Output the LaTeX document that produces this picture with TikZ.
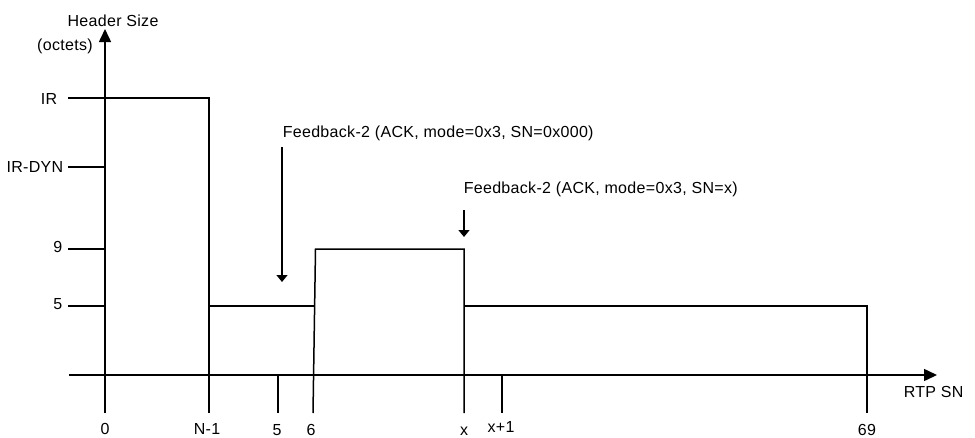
\documentclass[tikz,border=0pt]{standalone}
\usepackage{fontspec}
\setmainfont{Liberation Sans}[LetterSpace=2.0]
\usetikzlibrary{arrows.meta}
\begin{document}
\begin{tikzpicture}[x=1pt,y=-1pt, line width=1.5pt,
  lbl/.style={inner sep=0pt, font=\fontsize{16}{19}\selectfont},
  axisarrow/.style={-{Triangle[length=13pt,width=12pt]}},
  fbarrow/.style={-{Triangle[length=7pt,width=11pt]}}]
\useasboundingbox (0,0) rectangle (975,437);
% coordinates
\coordinate (ybot) at (105,413);
\coordinate (ytop) at (105,29);
\coordinate (xstart) at (69,375);
\coordinate (xend) at (937,375);
\coordinate (irL) at (68,98);
\coordinate (irR) at (209,98);
\coordinate (nb) at (209,413);
\coordinate (dynL) at (68,167);
\coordinate (dynR) at (105,167);
\coordinate (nineL) at (68,249);
\coordinate (nineR) at (105,249);
\coordinate (fiveL) at (68,306);
\coordinate (fiveR) at (105,306);
\coordinate (lowA) at (209,306);
\coordinate (lowB) at (315,306);
\coordinate (sixB) at (313,413);
\coordinate (sixT) at (315.5,249);
\coordinate (xT) at (464,249);
\coordinate (xB) at (464,413);
\coordinate (t5T) at (278,375);
\coordinate (t5B) at (278,413);
\coordinate (lowC) at (464,306);
\coordinate (lowD) at (867,306);
\coordinate (endB) at (867,413);
\coordinate (x1T) at (502,375);
\coordinate (x1B) at (502,413);
\coordinate (fa1s) at (282,147);
\coordinate (fa1e) at (282,282);
\coordinate (fa2s) at (464,210);
\coordinate (fa2e) at (464,237);
% axes
\draw[axisarrow] (ybot) -- (ytop);
\draw[axisarrow] (xstart) -- (xend);
% y ticks
\draw (dynL) -- (dynR);
\draw (nineL) -- (nineR);
\draw (fiveL) -- (fiveR);
% header size curve
\draw (irL) -- (irR) -- (nb);
\draw (lowA) -- (lowB);
\draw (sixB) -- (sixT) -- (xT) -- (xB);
\draw (lowC) -- (lowD) -- (endB);
% x ticks
\draw (t5T) -- (t5B);
\draw (x1T) -- (x1B);
% feedback arrows
\draw[fbarrow] (fa1s) -- (fa1e);
\draw[fbarrow] (fa2s) -- (fa2e);
% labels
\node[lbl, anchor=base] (hs) at (113,26) {Header Size};
\node[lbl, anchor=base] (oc) at (65,50) {(octets)};
\node[lbl, anchor=base east] (lir) at (58,104) {IR};
\node[lbl, anchor=base east] (ldyn) at (64,172.5) {IR-DYN};
\node[lbl, anchor=base east] (l9) at (63,252) {9};
\node[lbl, anchor=base east] (l5) at (63,309) {5};
\node[lbl, anchor=base] (x0) at (105,434.5) {0};
\node[lbl, anchor=base] (xn) at (207,434.5) {N-1};
\node[lbl, anchor=base] (x5) at (277,435) {5};
\node[lbl, anchor=base] (x6) at (311,435) {6};
\node[lbl, anchor=base] (xx) at (464,435) {x};
\node[lbl, anchor=base] (xx1) at (501,432) {x+1};
\node[lbl, anchor=base] (x69) at (867,435) {69};
\node[lbl, anchor=base west] (rtp) at (903,397) {RTP SN};
\node[lbl, anchor=base west] (fb1) at (282,137.5) {Feedback-2 (ACK, mode=0x3, SN=0x000)};
\node[lbl, anchor=base west] (fb2) at (463,193) {Feedback-2 (ACK, mode=0x3, SN=x)};
\end{tikzpicture}
\end{document}
